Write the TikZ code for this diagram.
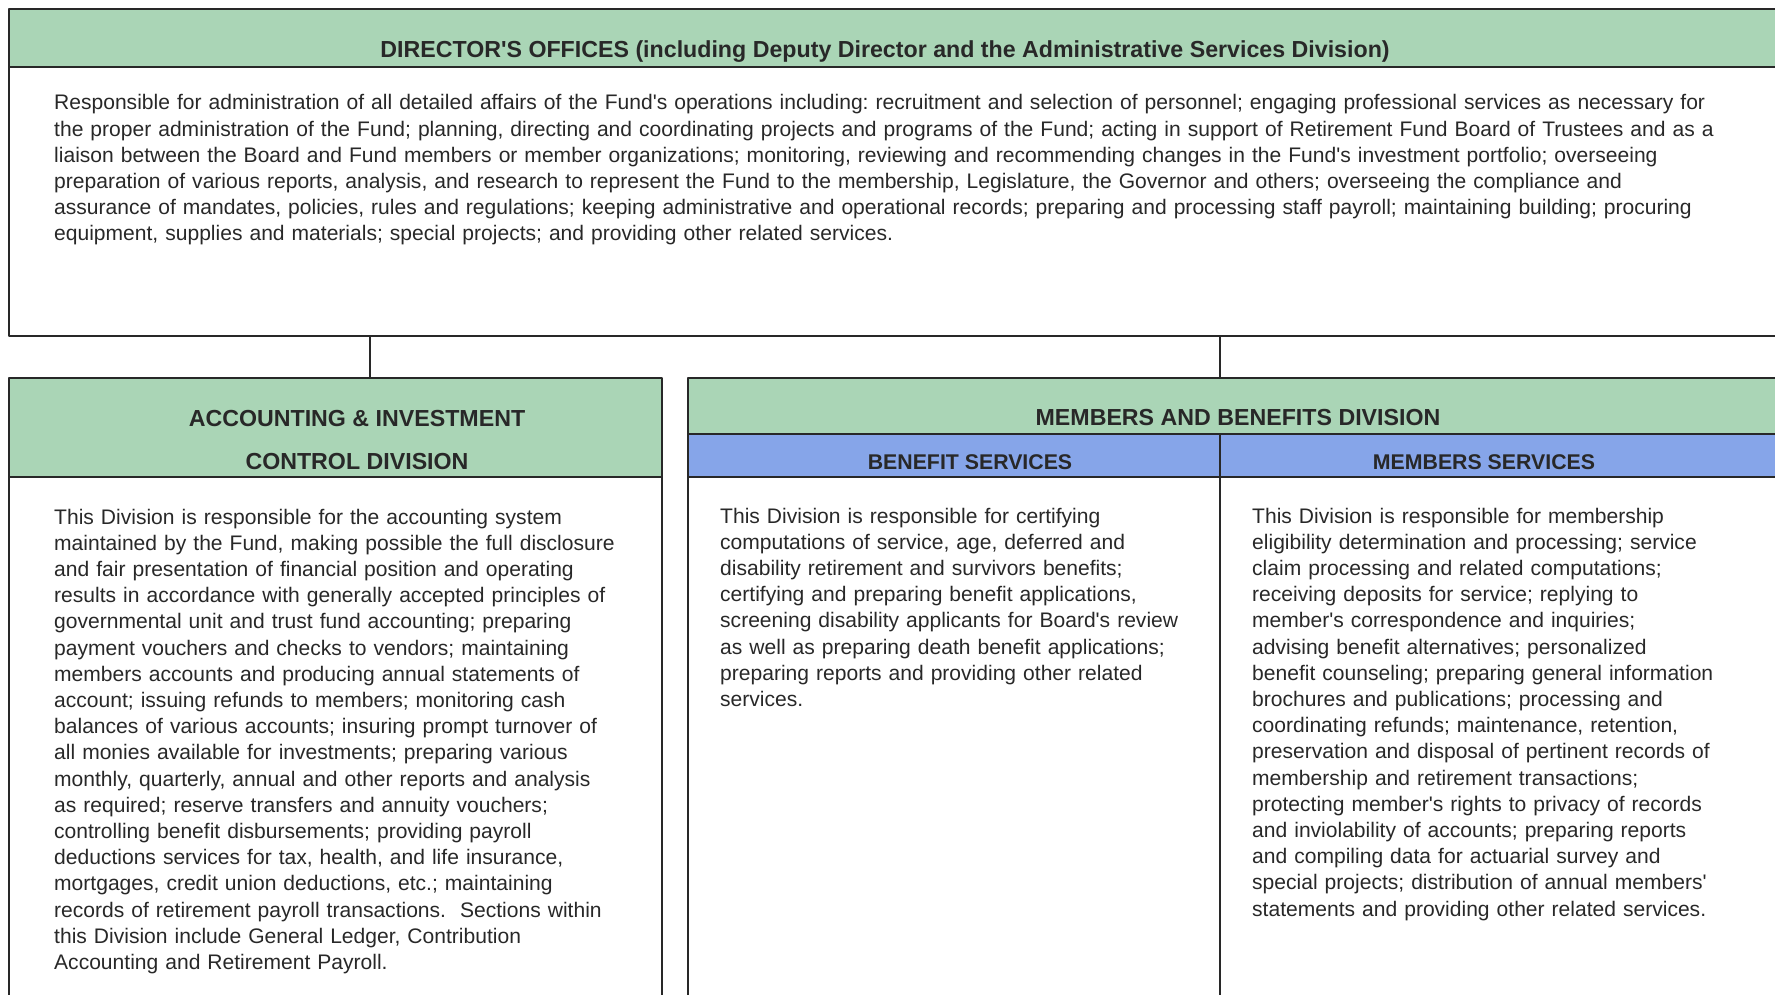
\documentclass[tikz,border=0pt]{standalone}
\usepackage{fontspec}
\setmainfont{Liberation Sans}
\newcommand{\sq}{\textquotesingle}
\definecolor{hdrgreen}{RGB}{170,213,182}
\definecolor{hdrblue}{RGB}{134,165,233}
\definecolor{inkgray}{RGB}{40,40,40}
\tikzset{
  panel/.style={draw=inkgray, line width=1.6pt, inner sep=0pt, outer sep=0pt, anchor=north west},
  title/.style={font=\fontsize{23.2}{26}\selectfont\bfseries, text=inkgray, inner sep=0pt, anchor=base},
  subtitle/.style={title, font=\fontsize{21.3}{26}\selectfont\bfseries},
  body/.style={font=\fontsize{21.05}{26.2}\selectfont\frenchspacing, text=inkgray, inner sep=0pt, anchor=base west, align=left},
}
\begin{document}
\begin{tikzpicture}[x=1pt, y=-1pt, line join=round]
  \useasboundingbox (0,0) rectangle (1775,995);
  \clip (0,0) rectangle (1775,995);
  % director's offices
  \node[panel, fill=hdrgreen, minimum width=1800pt, minimum height=58pt] (dirhead) at (9,9) {};
  \node[panel, minimum width=1800pt, minimum height=269pt] (dirbox) at (9,67) {};
  \node[title] (dirtitle) at (885,58) {DIRECTOR\sq S OFFICES (including Deputy Director and the Administrative Services Division)};
  \node[body, text width=1720pt] (dirtext) at (54,110) {Responsible for administration of all detailed affairs of the Fund\sq s operations including: recruitment and selection of personnel; engaging professional services as necessary for\\
    the proper administration of the Fund; planning, directing and coordinating projects and programs of the Fund; acting in support of Retirement Fund Board of Trustees and as a\\
    liaison between the Board and Fund members or member organizations; monitoring, reviewing and recommending changes in the Fund\sq s investment portfolio; overseeing\\
    preparation of various reports, analysis, and research to represent the Fund to the membership, Legislature, the Governor and others; overseeing the compliance and\\
    assurance of mandates, policies, rules and regulations; keeping administrative and operational records; preparing and processing staff payroll; maintaining building; procuring\\
    equipment, supplies and materials; special projects; and providing other related services.};
  % accounting & investment control
  \node[panel, fill=hdrgreen, minimum width=653pt, minimum height=99pt] (acchead) at (9,378) {};
  \node[panel, minimum width=653pt, minimum height=600pt] (accbox) at (9,477) {};
  \node[title] (acctitle) at (357,426) {ACCOUNTING \& INVESTMENT};
  \node[title] (acctitle2) at (357,469) {CONTROL DIVISION};
  \node[body, text width=640pt] (acctext) at (54,524) {This Division is responsible for the accounting system\\
    maintained by the Fund, making possible the full disclosure\\
    and fair presentation of financial position and operating\\
    results in accordance with generally accepted principles of\\
    governmental unit and trust fund accounting; preparing\\
    payment vouchers and checks to vendors; maintaining\\
    members accounts and producing annual statements of\\
    account; issuing refunds to members; monitoring cash\\
    balances of various accounts; insuring prompt turnover of\\
    all monies available for investments; preparing various\\
    monthly, quarterly, annual and other reports and analysis\\
    as required; reserve transfers and annuity vouchers;\\
    controlling benefit disbursements; providing payroll\\
    deductions services for tax, health, and life insurance,\\
    mortgages, credit union deductions, etc.; maintaining\\
    records of retirement payroll transactions.\ \ Sections within\\
    this Division include General Ledger, Contribution\\
    Accounting and Retirement Payroll.};
  % members and benefits
  \node[panel, fill=hdrgreen, minimum width=1200pt, minimum height=56pt] (mbhead) at (688,378) {};
  \node[panel, fill=hdrblue, minimum width=532pt, minimum height=43pt] (benhead) at (688,434) {};
  \node[panel, fill=hdrblue, minimum width=700pt, minimum height=43pt] (memhead) at (1220,434) {};
  \node[panel, minimum width=532pt, minimum height=600pt] (benbox) at (688,477) {};
  \node[panel, minimum width=700pt, minimum height=600pt] (membox) at (1220,477) {};
  \node[title] (mbtitle) at (1238,425) {MEMBERS AND BENEFITS DIVISION};
  \node[subtitle] (bentitle) at (970,469) {BENEFIT SERVICES};
  \node[subtitle] (memtitle) at (1484,469) {MEMBERS SERVICES};
  \node[body, text width=520pt] (bentext) at (720,523) {This Division is responsible for certifying\\
    computations of service, age, deferred and\\
    disability retirement and survivors benefits;\\
    certifying and preparing benefit applications,\\
    screening disability applicants for Board\sq s review\\
    as well as preparing death benefit applications;\\
    preparing reports and providing other related\\
    services.};
  \node[body, text width=520pt] (memtext) at (1252,523) {This Division is responsible for membership\\
    eligibility determination and processing; service\\
    claim processing and related computations;\\
    receiving deposits for service; replying to\\
    member\sq s correspondence and inquiries;\\
    advising benefit alternatives; personalized\\
    benefit counseling; preparing general information\\
    brochures and publications; processing and\\
    coordinating refunds; maintenance, retention,\\
    preservation and disposal of pertinent records of\\
    membership and retirement transactions;\\
    protecting member\sq s rights to privacy of records\\
    and inviolability of accounts; preparing reports\\
    and compiling data for actuarial survey and\\
    special projects; distribution of annual members\sq\\
    statements and providing other related services.};
  % connectors down to the divisions
  \coordinate (accjoin) at (370,0);
  \coordinate (mbjoin) at (1220,0);
  \draw[draw=inkgray, line width=1.6pt] (dirbox.south -| accjoin) -- (acchead.north -| accjoin);
  \draw[draw=inkgray, line width=1.6pt] (dirbox.south -| mbjoin) -- (mbhead.north -| mbjoin);
\end{tikzpicture}
\end{document}
